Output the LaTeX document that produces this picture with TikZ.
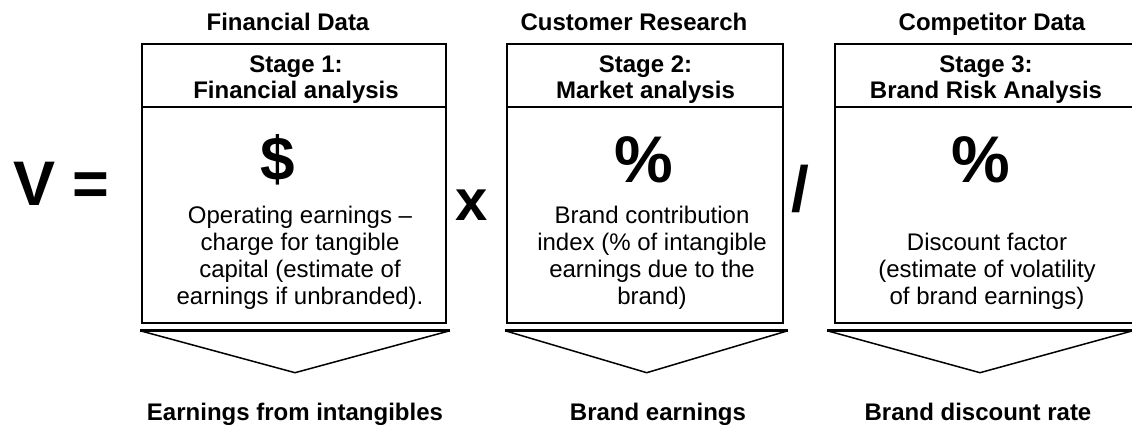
\documentclass[tikz,border=0pt]{standalone}
\usepackage{fontspec}
\setmainfont{Liberation Sans}
\begin{document}
\begin{tikzpicture}[x=1pt,y=-1pt,
  boxline/.style={draw=black, line width=2pt, inner sep=0pt},
  hdrtext/.style={font=\bfseries\fontsize{24}{26.5}\selectfont, align=center, anchor=north, inner sep=0pt},
  bodytext/.style={font=\fontsize{24}{27}\selectfont, align=center, anchor=north, inner sep=0pt},
  lbl/.style={font=\bfseries\fontsize{24}{27}\selectfont, anchor=base, inner sep=0pt},
  bigsym/.style={font=\bfseries\fontsize{64}{70}\selectfont, anchor=base, inner sep=0pt},
  chevside/.style={draw=black, line width=1.5pt, line join=miter},
  chevtop/.style={draw=black, line width=2.5pt}
]
\useasboundingbox[fill=white] (0,0) rectangle (1132,425);

% top titles
\node[lbl] (t1) at (288,31) {Financial Data};
\node[lbl] (t2) at (634,31) {Customer Research};
\node[lbl] (t3) at (992,31) {Competitor Data};

% boxes: header and body
\node[boxline, minimum width=304pt, minimum height=63pt] (h1) at (294,75.5) {};
\node[boxline, minimum width=304pt, minimum height=216pt] (b1) at (294,215) {};
\node[boxline, minimum width=276pt, minimum height=63pt] (h2) at (644.7,75.5) {};
\node[boxline, minimum width=276pt, minimum height=216pt] (b2) at (644.7,215) {};
\node[boxline, minimum width=302pt, minimum height=63pt] (h3) at (986,75.5) {};
\node[boxline, minimum width=302pt, minimum height=216pt] (b3) at (986,215) {};

% header texts
\node[hdrtext] (ht1) at (296,52) {\rule{0pt}{20pt}Stage 1:\\Financial analysis};
\node[hdrtext] (ht2) at (645.5,52) {\rule{0pt}{20pt}Stage 2:\\Market analysis};
\node[hdrtext] (ht3) at (986,52) {\rule{0pt}{20pt}Stage 3:\\Brand Risk Analysis};

% big symbols
\node[bigsym, font=\bfseries\fontsize{62}{70}\selectfont] (s1) at (278,180) {\$};
\node[bigsym, font=\bfseries\fontsize{66}{70}\selectfont] (s2) at (644,182) {\%};
\node[bigsym, font=\bfseries\fontsize{66}{70}\selectfont] (s3) at (981,182) {\%};

% body texts
\node[bodytext] (bt1) at (300,203) {\rule{0pt}{20pt}Operating earnings –\\charge for tangible\\capital (estimate of\\earnings if unbranded).};
\node[bodytext] (bt2) at (652,203) {\rule{0pt}{20pt}Brand contribution\\index (\% of intangible\\earnings due to the\\brand)};
\node[bodytext] (bt3) at (987,230) {\rule{0pt}{20pt}Discount factor\\(estimate of volatility\\of brand earnings)};

% operators
\node[bigsym, anchor=base west, font=\bfseries\fontsize{63}{70}\selectfont] (veq) at (13,205) {V =};
\node[bigsym, font=\bfseries\fontsize{58}{70}\selectfont] (times) at (472,220) {x};
\node[bigsym] (divide) at (800,211) {/};

% chevrons
\coordinate (c1l) at (140,330.7); \coordinate (c1r) at (450,330.7); \coordinate (c1t) at (295,372.7);
\coordinate (c2l) at (505,330.7); \coordinate (c2r) at (788,330.7); \coordinate (c2t) at (646.7,372.7);
\coordinate (c3l) at (827,330.7); \coordinate (c3r) at (1133,330.7); \coordinate (c3t) at (980,372.7);
\draw[chevside] (c1l) -- (c1t) -- (c1r);
\draw[chevtop] (c1l) -- (c1r);
\draw[chevside] (c2l) -- (c2t) -- (c2r);
\draw[chevtop] (c2l) -- (c2r);
\draw[chevside] (c3l) -- (c3t) -- (c3r);
\draw[chevtop] (c3l) -- (c3r);

% bottom labels
\node[lbl] (r1) at (295,420) {Earnings from intangibles};
\node[lbl] (r2) at (658,420) {Brand earnings};
\node[lbl] (r3) at (978,420) {Brand discount rate};
\end{tikzpicture}
\end{document}
